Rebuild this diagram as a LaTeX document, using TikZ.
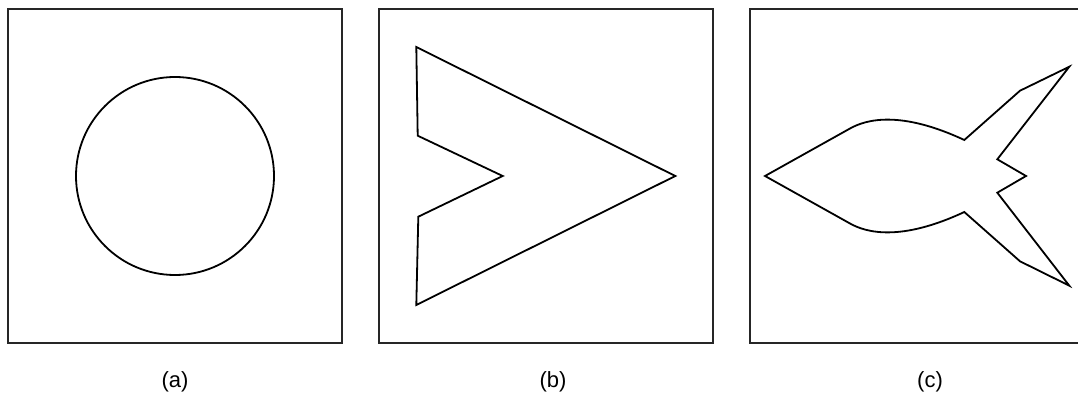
\documentclass[tikz,border=0pt]{standalone}
\usepackage{fontspec}
\setmainfont{Liberation Sans}
\begin{document}
\begin{tikzpicture}[x=1pt,y=-1pt,
  frame/.style={draw=black!85,line width=1.8pt},
  outl/.style={draw=black,line width=1.8pt,line join=miter},
  caption/.style={font=\fontsize{22}{26}\selectfont,inner sep=0pt}]
\useasboundingbox (0,0) rectangle (1078,398);
\clip (0,0) rectangle (1078,398);
% (a)
\draw[frame] (8,9) rectangle (342,343);
\draw[outl] (175,176) circle[radius=99];
\node[caption] (la) at (175,382) {(a)};
% (b)
\draw[frame] (379,9) rectangle (713,343);
\draw[outl] (416.3,47) -- (417.7,135.7) -- (502.7,176) -- (418.3,216.7) -- (416.3,305) -- (675.3,176) -- cycle;
\node[caption] (lb) at (553,382) {(b)};
% (c)
\draw[frame] (750,9) rectangle (1084,343);
\draw[outl] (765,176) -- (850,128.5)
  .. controls (866,119.5) and (900,110) .. (964.3,140)
  -- (1020,90.7) -- (1069.3,66.7) -- (997.3,159.3) -- (1026,176) -- (997.3,192.7)
  -- (1069.3,285.7) -- (1020,261.3) -- (964.3,212)
  .. controls (900,242) and (866,232.5) .. (850,223.5)
  -- cycle;
\node[caption] (lc) at (930,382) {(c)};
\end{tikzpicture}
\end{document}
